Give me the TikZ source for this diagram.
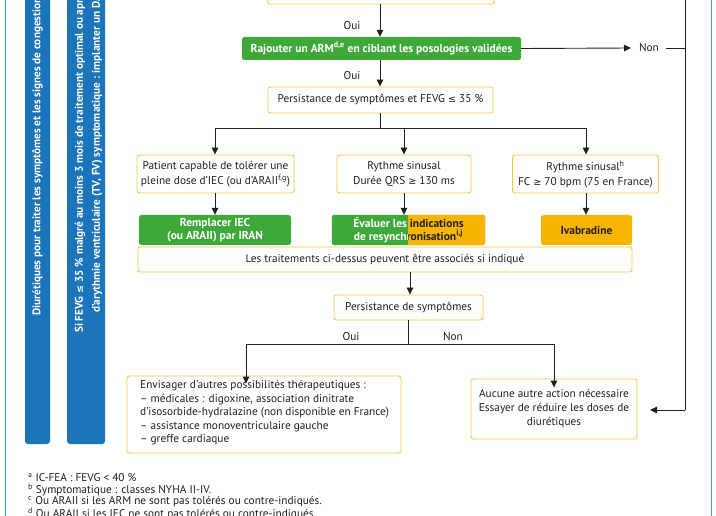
\documentclass[tikz,border=0pt]{standalone}
\usepackage{fontspec}
\setmainfont{PT Sans}
\newfontfamily\symfont[Scale=0.85]{DejaVu Sans}
\usetikzlibrary{arrows.meta}
\definecolor{armgreen}{HTML}{3FA83A}
\definecolor{ambery}{HTML}{F8B500}
\definecolor{boxline}{HTML}{F3C646}
\definecolor{barblue}{HTML}{1C74BA}
\definecolor{frameteal}{HTML}{35A7CC}
\definecolor{ink}{HTML}{231F20}
\newcommand\lesign{{\symfont ≤}}
\newcommand\gesign{{\symfont ≥}}
\begin{document}
\begin{tikzpicture}[x=1pt,y=-1pt,
  box/.style={draw=boxline, line width=0.9pt, rounded corners=2.5pt, fill=white, align=center, text=ink, font=\fontsize{11.3}{15}\selectfont, inner sep=0pt},
  greenact/.style={fill=armgreen, rounded corners=2.5pt, text=white, align=center, font=\fontsize{11.5}{13}\selectfont\bfseries, inner sep=0pt},
  amberact/.style={fill=ambery, rounded corners=2.5pt, text=ink, align=center, font=\fontsize{11.5}{13}\selectfont\bfseries, inner sep=0pt},
  acttext/.style={align=center, font=\fontsize{11.5}{13}\selectfont\bfseries, inner sep=0pt},
  arr/.style={-{Triangle[length=7pt,width=6.5pt]}, line width=0.9pt, draw=ink},
  ln/.style={line width=0.9pt, draw=ink},
  lab/.style={text=ink, font=\fontsize{11.3}{13}\selectfont, inner sep=0pt},
  bartext/.style={text=white, font=\fontsize{11.2}{13}\selectfont\bfseries, inner sep=0pt, rotate=90, anchor=west},
  foot/.style={text=ink, font=\fontsize{11.3}{12.3}\selectfont, inner sep=0pt, anchor=west}
]
\useasboundingbox (0,0) rectangle (716,516);
\fill[white] (0,0) rectangle (716,516);

% frame
\draw[frameteal, line width=1pt] (5,-2) -- (5,518);
\draw[frameteal, line width=1pt] (711,-2) -- (711,518);

% blue bars
\fill[barblue, rounded corners=3pt] (25,-10) rectangle (50,444);
\fill[barblue, rounded corners=3pt] (67,-10) rectangle (105,444);
\begin{scope}
\clip (0,0) rectangle (716,516);
\node[bartext] (bar1txt) at (37.5,316) {Diurétiques pour traiter les symptômes et les signes de congestion};
\node[bartext] (bar2txta) at (80,333) {Si FEVG \lesign{} 35 \% malgré au moins 3 mois de traitement optimal ou après};
\node[bartext] (bar2txtb) at (97,313) {d'arythmie ventriculaire (TV, FV) symptomatique : implanter un DAI};
\end{scope}

% main nodes
\node[box, minimum width=227, minimum height=22] (topbox) at (381,-7) {};
\node[greenact, minimum width=279, minimum height=23] (addarm) at (381.5,48.5) {Rajouter un ARM\textsuperscript{d,e} en ciblant les posologies validées};
\node[box, minimum width=225, minimum height=26] (pers1) at (380.5,100) {Persistance de symptômes et FEVG \lesign{} 35 \%};

\node[box, minimum width=157, minimum height=38] (capable) at (215.5,174) {Patient capable de tolérer une\\pleine dose d'IEC (ou d'ARAII\textsuperscript{f,g})};
\node[box, minimum width=134, minimum height=38] (rythme) at (404,174) {Rythme sinusal\\Durée QRS \gesign{} 130 ms};
\node[box, minimum width=146, minimum height=38] (rythmeh) at (585.5,174) {Rythme sinusal\textsuperscript{h}\\FC \gesign{} 70 bpm (75 en France)};

\node[greenact, minimum width=152, minimum height=30] (remplacer) at (215,230) {Remplacer IEC\\(ou ARAII) par IRAN};
% split box
\node[minimum width=153, minimum height=30, inner sep=0pt] (evaluer) at (408.5,230) {};
\fill[armgreen, rounded corners=2.5pt] (evaluer.north west) rectangle (evaluer.south east);
\begin{scope}
  \clip (408,200) rectangle (500,260);
  \fill[ambery, rounded corners=2.5pt] (evaluer.north west) rectangle (evaluer.south east);
\end{scope}
\begin{scope}
  \clip (320,200) rectangle (408,260);
  \node[acttext, text=white] (evalw) at (408.5,230) {Évaluer les indications\\de resynchronisation\textsuperscript{i,j}};
\end{scope}
\begin{scope}
  \clip (408,200) rectangle (500,260);
  \node[acttext, text=ink] (evald) at (408.5,230) {Évaluer les indications\\de resynchronisation\textsuperscript{i,j}};
\end{scope}
\node[amberact, minimum width=91, minimum height=30] (ivab) at (586.5,230) {Ivabradine};

\node[box, minimum width=494, minimum height=25] (assoc) at (385,259.5) {Les traitements ci-dessus peuvent être associés si indiqué};
\node[box, minimum width=149, minimum height=25] (pers2) at (408.5,307.5) {Persistance de symptômes};

\node[box, minimum width=274, minimum height=77] (envis) at (264,414.5) {};
\node[lab, anchor=north west, align=left, font=\fontsize{11.3}{13.4}\selectfont] (envistxt) at (140,380.5) {Envisager d'autres possibilités thérapeutiques :\\
– médicales : digoxine, association dinitrate\\
d'isosorbide-hydralazine (non disponible en France)\\
– assistance monoventriculaire gauche\\
– greffe cardiaque};
\node[box, minimum width=166, minimum height=60, font=\fontsize{11.3}{14}\selectfont] (aucune) at (554,409) {Aucune autre action nécessaire\\Essayer de réduire les doses de\\diurétiques};

% labels
\node[lab] (oui1) at (352,26) {Oui};
\node[lab] (oui2) at (352,76) {Oui};
\node[lab] (non1) at (649,48) {Non};
\node[lab] (oui3) at (351,337) {Oui};
\node[lab] (non2) at (453,337) {Non};

% coordinates
\coordinate (b1) at (380,128);
\coordinate (bl) at (215,128);
\coordinate (bm) at (404,128);
\coordinate (br) at (586,128);
\coordinate (c1) at (408,344);
\coordinate (cl) at (246,344);
\coordinate (cr) at (554,344);
\coordinate (nonarr) at (631,48);
\coordinate (vtop) at (685,-2);
\coordinate (vj) at (685,48);
\coordinate (vbot) at (685,410);
\coordinate (aucarr) at (650,410);

% connectors
\draw[arr] (topbox.south -| 380,0) -- (addarm.north -| 380,0);
\draw[arr] (addarm.east) -- (nonarr);
\draw[ln] (non1.east) ++(7,0) -- (vj);
\draw[ln] (vtop) -- (vbot);
\draw[arr] (vbot) -- (aucarr);
\draw[arr] (addarm.south -| 380,0) -- (pers1.north -| 380,0);
\draw[ln] (pers1.south -| b1) -- (b1);
\draw[ln] (bl) -- (br);
\draw[arr] (bl) -- (capable.north -| bl);
\draw[arr] (bm) -- (rythme.north -| bm);
\draw[arr] (br) -- (rythmeh.north -| br);
\draw[arr] (capable.south -| 215,0) -- (remplacer.north -| 215,0);
\draw[arr] (rythme.south -| 404,0) -- (evaluer.north -| 404,0);
\draw[arr] (rythmeh.south -| 586,0) -- (ivab.north -| 586,0);
\draw[arr] (assoc.south -| 410,0) -- (pers2.north -| 410,0);
\draw[ln] (pers2.south -| c1) -- (c1);
\draw[ln] (cl) -- (cr);
\draw[arr] (cl) -- ([yshift=-8pt]envis.north -| cl);
\draw[arr] (cr) -- ([yshift=-9pt]aucune.north -| cr);

% footnotes
\node[foot] (fa) at (28,478) {\textsuperscript{a} IC-FEA : FEVG < 40 \%};
\node[foot] (fb) at (28,490) {\textsuperscript{b} Symptomatique : classes NYHA II-IV.};
\node[foot] (fc) at (28,502) {\textsuperscript{c} Ou ARAII si les ARM ne sont pas tolérés ou contre-indiqués.};
\node[foot] (fd) at (28,514) {\textsuperscript{d} Ou ARAII si les IEC ne sont pas tolérés ou contre-indiqués.};
\end{tikzpicture}
\end{document}
